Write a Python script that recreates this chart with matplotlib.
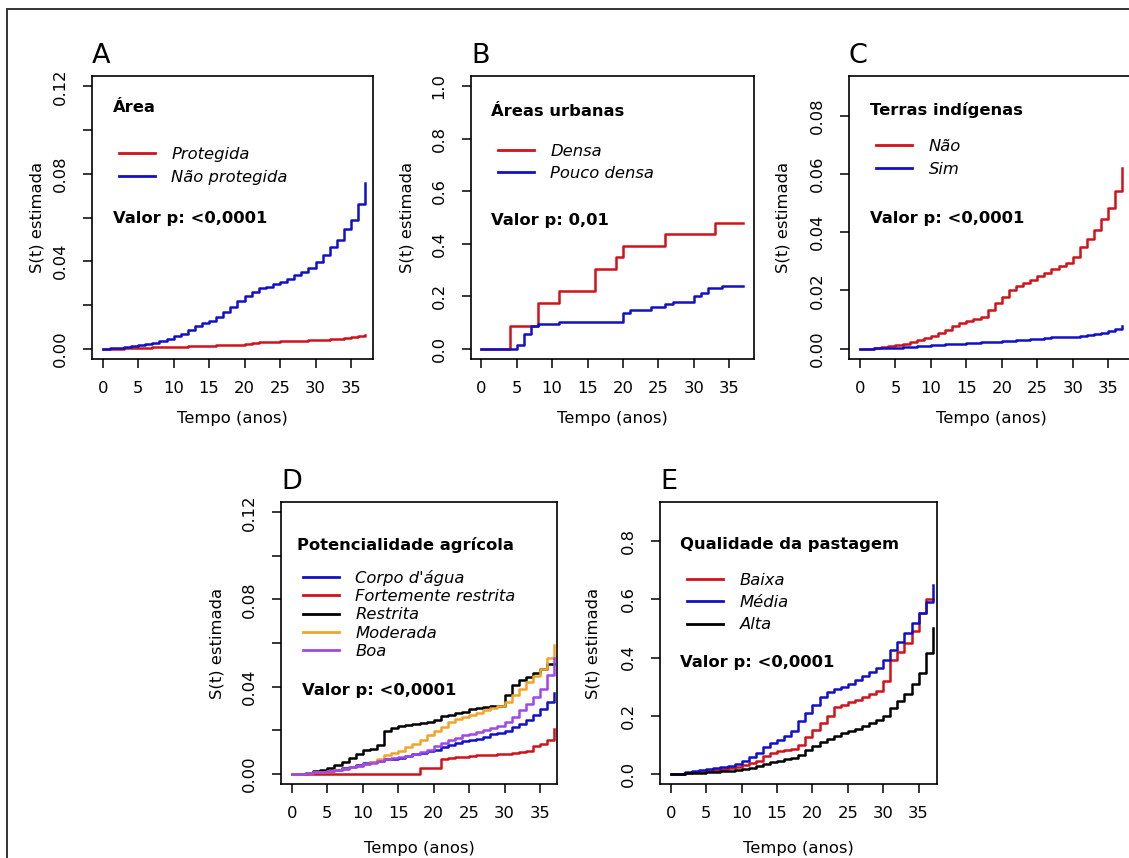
import numpy as np
import matplotlib
matplotlib.use("Agg")
import matplotlib.pyplot as plt
from matplotlib.patches import Rectangle

plt.rcParams["font.family"] = ["DejaVu Sans"]

W, H = 1129, 858

years = list(range(38))
xticks = [0, 5, 10, 15, 20, 25, 30, 35]

# A - Area
a_labels = ["Protegida", "Não protegida"]
a_protegida = [0, 0, 0, 0.0001, 0.0002, 0.0003, 0.0004, 0.0005, 0.0006, 0.0007,
               0.0008, 0.0009, 0.001, 0.0011, 0.0012, 0.0013, 0.0014, 0.0015, 0.0016, 0.0018,
               0.002, 0.0026, 0.0029, 0.0031, 0.0032, 0.0033, 0.0034, 0.0035, 0.0036, 0.0037,
               0.0039, 0.0041, 0.0043, 0.0045, 0.0048, 0.0052, 0.0059, 0.0062]
a_nao_protegida = [0, 0.0001, 0.0004, 0.0008, 0.0012, 0.0016, 0.0021, 0.0027, 0.0035, 0.0045,
                   0.0056, 0.0068, 0.0085, 0.0102, 0.0115, 0.0128, 0.0145, 0.0168, 0.019, 0.0217,
                   0.024, 0.026, 0.0275, 0.0283, 0.0294, 0.0306, 0.032, 0.0336, 0.0349, 0.0367,
                   0.0398, 0.0428, 0.0463, 0.0497, 0.0546, 0.0589, 0.066, 0.0757]

# B - Areas urbanas
b_labels = ["Densa", "Pouco densa"]
b_densa = [0, 0, 0, 0, 0.087, 0.087, 0.087, 0.087, 0.172, 0.172,
           0.172, 0.219, 0.219, 0.219, 0.219, 0.219, 0.303, 0.303, 0.303, 0.348,
           0.392, 0.392, 0.392, 0.392, 0.392, 0.392, 0.436, 0.436, 0.436, 0.436,
           0.436, 0.436, 0.436, 0.479, 0.479, 0.479, 0.479, 0.479]
b_pouco_densa = [0, 0, 0, 0, 0, 0.013, 0.055, 0.085, 0.095, 0.095,
                 0.095, 0.103, 0.103, 0.103, 0.103, 0.103, 0.103, 0.103, 0.103, 0.103,
                 0.137, 0.148, 0.148, 0.148, 0.157, 0.157, 0.168, 0.178, 0.178, 0.178,
                 0.2, 0.21, 0.23, 0.23, 0.24, 0.24, 0.24, 0.24]

# C - Terras indigenas
c_labels = ["Não", "Sim"]
c_nao = [0, 0, 0.0002, 0.0004, 0.0007, 0.0011, 0.0016, 0.0023, 0.003, 0.0036,
         0.0042, 0.0052, 0.0063, 0.0078, 0.0088, 0.0094, 0.0101, 0.0109, 0.0132, 0.0155,
         0.0178, 0.02, 0.0214, 0.0226, 0.0237, 0.0249, 0.026, 0.0272, 0.0283, 0.0295,
         0.0315, 0.035, 0.0376, 0.0407, 0.0445, 0.0481, 0.0542, 0.0619]
c_sim = [0, 0, 0.0001, 0.0002, 0.0002, 0.0003, 0.0004, 0.0006, 0.0008, 0.001,
         0.0012, 0.0013, 0.0014, 0.0015, 0.0017, 0.0019, 0.002, 0.0021, 0.0023, 0.0024,
         0.0026, 0.0027, 0.0029, 0.003, 0.0032, 0.0034, 0.0037, 0.0038, 0.0039, 0.004,
         0.004, 0.0042, 0.0046, 0.005, 0.0055, 0.006, 0.0068, 0.0077]

# D - Potencialidade agricola
d_labels = ["Corpo d'água", "Fortemente restrita", "Restrita", "Moderada", "Boa"]
d_corpo_agua = [0, 0, 0.0002, 0.0005, 0.0009, 0.0013, 0.0018, 0.0024, 0.003, 0.0038,
                0.0048, 0.0055, 0.006, 0.0065, 0.0068, 0.0072, 0.008, 0.0088, 0.0095, 0.0102,
                0.011, 0.012, 0.013, 0.014, 0.0148, 0.0155, 0.016, 0.017, 0.018, 0.0188,
                0.0195, 0.0212, 0.023, 0.0245, 0.027, 0.0295, 0.033, 0.037]
d_fortemente_restrita = [0, 0, 0, 0, 0, 0, 0, 0, 0, 0,
                         0, 0, 0, 0, 0, 0, 0, 0, 0.0025, 0.0025,
                         0.0025, 0.0065, 0.0072, 0.0075, 0.0078, 0.008, 0.0083, 0.0085, 0.0087, 0.0088,
                         0.009, 0.0093, 0.0097, 0.0105, 0.0125, 0.0135, 0.0155, 0.0205]
d_restrita = [0, 0, 0.0003, 0.001, 0.0018, 0.0027, 0.004, 0.0053, 0.007, 0.0092,
              0.0107, 0.0115, 0.013, 0.0195, 0.021, 0.022, 0.0225, 0.023, 0.0232, 0.0235,
              0.0245, 0.0265, 0.027, 0.028, 0.0285, 0.0295, 0.03, 0.0305, 0.031, 0.031,
              0.036, 0.0405, 0.043, 0.0445, 0.046, 0.048, 0.0505, 0.0505]
d_moderada = [0, 0, 0.0002, 0.0005, 0.0009, 0.0013, 0.0017, 0.0022, 0.0028, 0.0036,
              0.0045, 0.0055, 0.0065, 0.0087, 0.0095, 0.0105, 0.012, 0.0135, 0.0155, 0.0175,
              0.0195, 0.0215, 0.0235, 0.025, 0.026, 0.027, 0.028, 0.029, 0.03, 0.031,
              0.033, 0.036, 0.039, 0.042, 0.045, 0.048, 0.053, 0.059]
d_boa = [0, 0, 0.0002, 0.0005, 0.0008, 0.0012, 0.0016, 0.0022, 0.003, 0.0037,
         0.0045, 0.005, 0.0057, 0.0065, 0.007, 0.0075, 0.0082, 0.009, 0.01, 0.011,
         0.0125, 0.014, 0.0155, 0.0165, 0.0175, 0.018, 0.019, 0.02, 0.021, 0.022,
         0.0235, 0.026, 0.029, 0.032, 0.035, 0.039, 0.0455, 0.053]

# E - Qualidade da pastagem
e_labels = ["Baixa", "Média", "Alta"]
e_baixa = [0, 0, 0.002, 0.004, 0.006, 0.008, 0.011, 0.014, 0.018, 0.024,
           0.03, 0.036, 0.045, 0.06, 0.072, 0.078, 0.08, 0.085, 0.1, 0.125,
           0.15, 0.175, 0.2, 0.23, 0.238, 0.245, 0.255, 0.265, 0.275, 0.285,
           0.32, 0.39, 0.42, 0.45, 0.49, 0.553, 0.6, 0.6]
e_media = [0, 0, 0.004, 0.008, 0.012, 0.015, 0.018, 0.022, 0.026, 0.033,
           0.045, 0.057, 0.07, 0.09, 0.107, 0.117, 0.13, 0.145, 0.18, 0.21,
           0.235, 0.265, 0.28, 0.29, 0.3, 0.31, 0.322, 0.335, 0.35, 0.365,
           0.39, 0.425, 0.455, 0.485, 0.52, 0.555, 0.59, 0.65]
e_alta = [0, 0, 0.001, 0.002, 0.003, 0.005, 0.006, 0.008, 0.01, 0.012,
          0.015, 0.02, 0.027, 0.033, 0.04, 0.045, 0.05, 0.055, 0.065, 0.08,
          0.095, 0.11, 0.12, 0.13, 0.14, 0.148, 0.155, 0.165, 0.175, 0.185,
          0.2, 0.225, 0.25, 0.275, 0.31, 0.345, 0.415, 0.5]

RED = "#d0121b"
BLUE = "#1010c8"
BLACK = "#000000"
ORANGE = "#f2a428"
PURPLE = "#a146e8"

FS = 11.8
FS_PX = FS * 100 / 72

fig = plt.figure(figsize=(W / 100, H / 100), dpi=100)

# outer frame (only top/left edges fall inside the image)
fig.add_artist(Rectangle((7 / W, -0.2), 2, 1 - 9 / H + 0.2, transform=fig.transFigure,
                         fill=False, lw=1.4, ec="#333333"))


def panel(box, letter, series, colors, labels, title, pval, xlim, ylim, yticks, ylabels,
          title_px, key_px, row_px, pval_px, ylab_x, xlab_y):
    L, T, R, B = box
    w, h = R - L, B - T
    ax = fig.add_axes([L / W, 1 - B / H, w / W, h / H])

    def fr(x, y):
        return (x - L) / w, 1 - (y - T) / h

    for vals, col, lab in zip(series, colors, labels):
        ax.step(years, vals, where="post", color=col, lw=1.8, label=lab)

    ax.set_xlim(*xlim)
    ax.set_ylim(*ylim)
    ax.set_xticks(xticks)
    ax.set_xticklabels([str(t) for t in xticks], fontsize=FS)
    ax.set_yticks(yticks)
    ax.set_yticklabels(ylabels, fontsize=FS, rotation=90, va="center")
    ax.tick_params(direction="out", length=6.5, width=1.1)
    ax.tick_params(axis="x", pad=9)
    ax.tick_params(axis="y", pad=11)
    for s in ax.spines.values():
        s.set_linewidth(1.2)

    ax.set_xlabel("Tempo (anos)", fontsize=FS)
    ax.xaxis.set_label_coords(0.5, -(xlab_y - B) / h)
    ax.set_ylabel("S(t) estimada", fontsize=FS)
    ax.yaxis.set_label_coords((ylab_x - L) / w, 0.5)

    ax.text(0, 1 + 13 / h, letter, transform=ax.transAxes, fontsize=19.5,
            ha="left", va="baseline")

    tx, ty = fr(*title_px)
    ax.text(tx, ty, title, transform=ax.transAxes, fontsize=FS, fontweight="bold",
            ha="left", va="center")
    px, py = fr(*pval_px)
    ax.text(px, py, "Valor p: " + pval, transform=ax.transAxes, fontsize=FS,
            fontweight="bold", ha="left", va="center")

    lx, ly = fr(key_px[0], key_px[1] - 6)
    leg = ax.legend(loc="upper left", bbox_to_anchor=(lx, ly), frameon=False,
                    fontsize=FS, borderpad=0, borderaxespad=0, handlelength=2.2,
                    handletextpad=1.0, labelspacing=(row_px - 15.3) / FS_PX)
    for t in leg.get_texts():
        t.set_fontstyle("italic")
    for l in leg.get_lines():
        l.set_linewidth(2.0)
    return ax


lab3 = ["0.00", "", "0.04", "", "0.08", "", "0.12"]

panel((92, 76, 373, 359), "A", [a_protegida, a_nao_protegida], [RED, BLUE], a_labels,
      "Área", "<0,0001", (-1.5, 38.1), (-0.0048, 0.1248),
      np.arange(0, 0.121, 0.02), lab3,
      (113, 108), (119, 153), 23, (113, 218), 44, 411)

panel((471, 76, 754, 359), "B", [b_densa, b_pouco_densa], [RED, BLUE], b_labels,
      "Áreas urbanas", "0,01", (-1.45, 38.5), (-0.04, 1.04),
      np.arange(0, 1.01, 0.2), ["0.0", "0.2", "0.4", "0.6", "0.8", "1.0"],
      (491, 111), (498, 150), 22, (491, 220), 415, 411)

panel((849, 76, 1133, 359), "C", [c_nao, c_sim], [RED, BLUE], c_labels,
      "Terras indígenas", "<0,0001", (-1.55, 38.5), (-0.0036, 0.0936),
      np.arange(0, 0.081, 0.02), ["0.00", "0.02", "0.04", "0.06", "0.08"],
      (870, 110), (876, 145), 23, (870, 218), 791, 411)

panel((281, 502, 557, 784), "D",
      [d_corpo_agua, d_fortemente_restrita, d_restrita, d_moderada, d_boa],
      [BLUE, RED, BLACK, ORANGE, PURPLE], d_labels,
      "Potencialidade agrícola", "<0,0001", (-1.55, 37.4), (-0.0048, 0.1248),
      np.arange(0, 0.121, 0.02), lab3,
      (297, 545), (303, 576), 18.5, (302, 691), 225, 841)

panel((660, 502, 937, 784), "E", [e_baixa, e_media, e_alta], [RED, BLUE, BLACK], e_labels,
      "Qualidade da pastagem", "<0,0001", (-1.55, 37.6), (-0.036, 0.936),
      np.arange(0, 0.81, 0.2), ["0.0", "0.2", "0.4", "0.6", "0.8"],
      (680, 544), (687, 579), 22.5, (680, 663), 601, 841)

fig.savefig("out.png", dpi=100)
